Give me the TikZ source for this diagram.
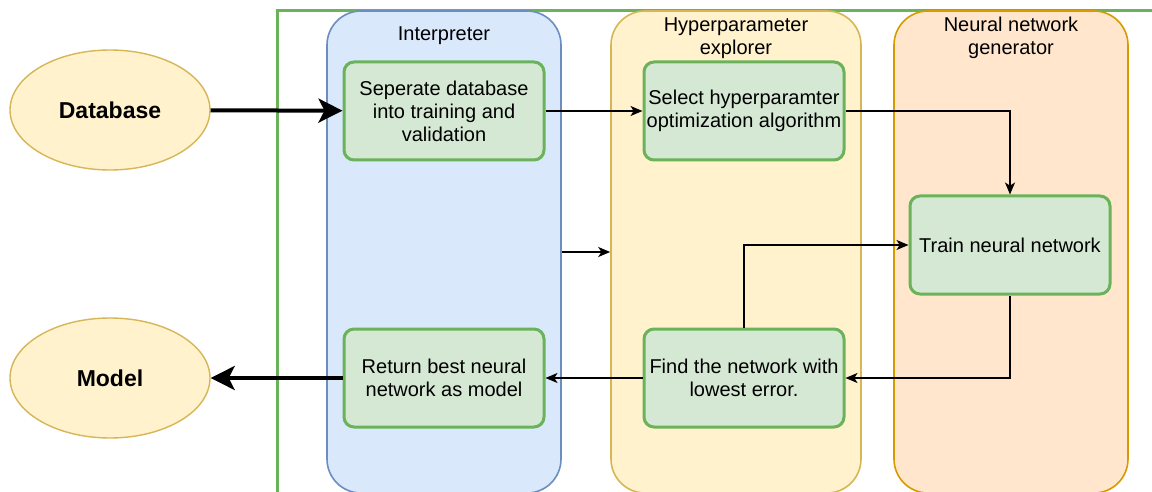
\documentclass[tikz,border=0pt]{standalone}
\usepackage{fontspec}
\setmainfont{Liberation Sans}
\usetikzlibrary{arrows.meta,shapes.geometric}
\definecolor{blueF}{HTML}{DAE8FC}
\definecolor{blueS}{HTML}{6C8EBF}
\definecolor{yelF}{HTML}{FFF2CC}
\definecolor{yelS}{HTML}{D6B656}
\definecolor{orF}{HTML}{FFE6CC}
\definecolor{orS}{HTML}{D79B00}
\definecolor{grF}{HTML}{D5E8D4}
\definecolor{grS}{HTML}{6AB35A}
\tikzset{
  lane/.style={draw=#1S,fill=#1F,line width=0.8pt,rounded corners=17pt,minimum width=117pt,minimum height=241pt,inner sep=0pt},
  lanetitle/.style={align=center,font=\fontsize{10}{11.5}\selectfont,inner sep=0pt},
  stepbox/.style={draw=grS,fill=grF,line width=1.5pt,rounded corners=5pt,minimum width=100pt,minimum height=49pt,align=center,inner sep=0pt,font=\fontsize{10}{11.5}\selectfont},
  term/.style={ellipse,draw=yelS,fill=yelF,line width=0.7pt,minimum width=100pt,minimum height=60pt,inner sep=0pt,font=\fontsize{11.5}{13}\selectfont\bfseries},
  flow/.style={draw=black,line width=0.75pt,-{Stealth[length=6pt,width=5pt,inset=1.6pt]}},
  bigflow/.style={draw=black,line width=2pt,-{Stealth[length=12pt,width=12pt,inset=3pt]}}
}
\begin{document}
\begin{tikzpicture}[x=0.5pt,y=-0.5pt]
\clip (0,0) rectangle (1152,492);
\fill[white] (0,0) rectangle (1152,492);
% outer container
\draw[grS,line width=1.5pt] (277,11) rectangle (1200,560);
% lanes
\node[lane=blue] (interp) at (444,252) {};
\node[lane=yel,minimum width=125pt] (hyper) at (736,252) {};
\node[lane=or] (gen) at (1011,252) {};
\node[lanetitle] (t1) at (444,36) {Interpreter};
\node[lanetitle] (t2) at (736,38) {Hyperparameter\\explorer};
\node[lanetitle] (t3) at (1011,38) {Neural network\\generator};
% terminals
\node[term] (db) at (110,110) {Database};
\node[term] (model) at (110,378) {Model};
% steps
\node[stepbox] (sep) at (444,111) {Seperate database\\into training and\\validation};
\node[stepbox] (sel) at (744,111) {Select hyperparamter\\optimization algorithm};
\node[stepbox] (train) at (1010,245) {Train neural network};
\node[stepbox] (find) at (744,378) {Find the network with\\lowest error.};
\node[stepbox] (ret) at (444,378) {Return best neural\\network as model};
% connectors
\draw[bigflow] (db) -- (sep);
\draw[flow] (sep) -- (sel);
\draw[flow] (sel.east) -| (train.north);
\draw[flow] (train.south) |- (find.east);
\draw[flow] (find.north) |- (train.west);
\draw[flow] (find) -- (ret);
\draw[bigflow] (ret) -- (model);
\draw[flow] (interp.east) -- (hyper.west);
\end{tikzpicture}
\end{document}
